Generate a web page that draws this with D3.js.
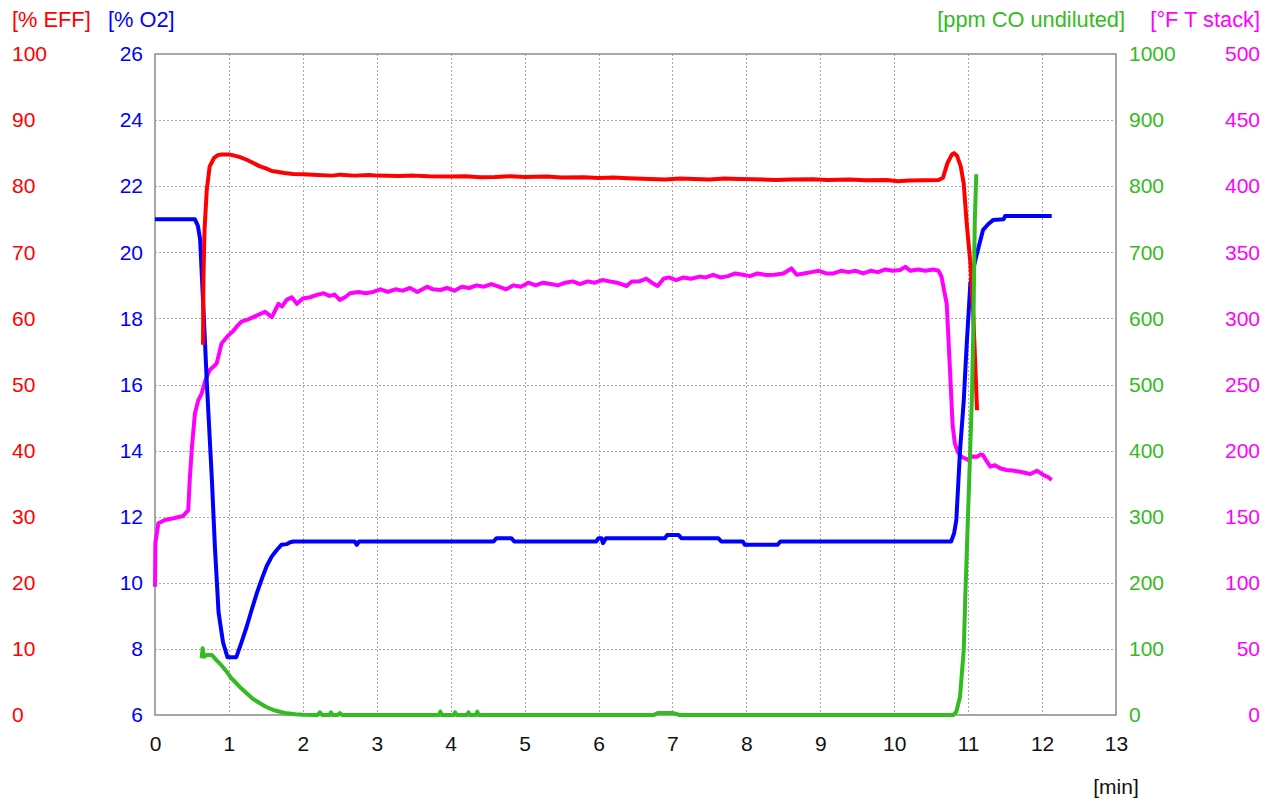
<!DOCTYPE html>
<html>
<head>
<meta charset="utf-8">
<script src="https://cdn.jsdelivr.net/npm/d3@7"></script>
<style>
  body { margin: 0; background: #fff; }
  svg { display: block; font-family: "Liberation Sans", Arial, sans-serif; }
</style>
</head>
<body>
<svg id="chart" width="1273" height="801"></svg>
<script>
// ---------- data ----------
const xTicks = [0,1,2,3,4,5,6,7,8,9,10,11,12,13];
const effTicks = [0,10,20,30,40,50,60,70,80,90,100];
const o2Ticks = [6,8,10,12,14,16,18,20,22,24,26];
const coTicks = [0,100,200,300,400,500,600,700,800,900,1000];
const tTicks = [0,50,100,150,200,250,300,350,400,450,500];

// [minutes, % O2]
const o2Data = [[0,21.0],[0.54,21.0],[0.58,20.8],[0.61,20.4],[0.675,17.35],[0.70,16.1],[0.77,13.1],[0.81,11.1],[0.86,9.1],[0.92,8.2],[0.98,7.75],[1.1,7.75],[1.17,8.2],[1.24,8.67],[1.31,9.2],[1.38,9.7],[1.45,10.15],[1.51,10.5],[1.58,10.8],[1.65,11.0],[1.71,11.15],[1.78,11.17],[1.82,11.22],[1.87,11.25],[2.7,11.25],[2.73,11.15],[2.76,11.25],[4.58,11.25],[4.62,11.35],[4.82,11.35],[4.86,11.25],[5.97,11.25],[6.0,11.35],[6.04,11.35],[6.06,11.2],[6.1,11.35],[6.9,11.35],[6.93,11.45],[7.08,11.45],[7.12,11.35],[7.62,11.35],[7.66,11.25],[7.95,11.25],[7.98,11.15],[8.42,11.15],[8.46,11.25],[10.77,11.25],[10.81,11.5],[10.84,11.9],[10.89,14.0],[10.94,15.5],[10.98,17.2],[11.03,19.06],[11.08,19.6],[11.12,19.97],[11.2,20.67],[11.27,20.85],[11.34,20.98],[11.48,21.0],[11.5,21.1],[12.13,21.1]];

// [minutes, % EFF]
const effData = [[0.65,56],[0.655,66],[0.67,73.4],[0.70,79.4],[0.74,83],[0.8,84.3],[0.85,84.7],[0.9,84.8],[1.0,84.8],[1.05,84.7],[1.15,84.4],[1.24,84.0],[1.33,83.5],[1.42,83.0],[1.5,82.7],[1.58,82.3],[1.65,82.2],[1.75,82.0],[1.87,81.85],[2.0,81.8],[2.2,81.7],[2.4,81.6],[2.5,81.75],[2.7,81.6],[2.9,81.7],[3.0,81.6],[3.3,81.55],[3.5,81.6],[3.7,81.5],[4.0,81.45],[4.2,81.5],[4.4,81.35],[4.6,81.4],[4.8,81.5],[5.0,81.4],[5.3,81.45],[5.5,81.3],[5.8,81.35],[6.0,81.25],[6.2,81.3],[6.4,81.2],[6.7,81.1],[6.9,81.0],[7.1,81.15],[7.3,81.1],[7.5,81.0],[7.7,81.15],[7.9,81.1],[8.1,81.05],[8.4,80.95],[8.6,81.0],[8.9,81.05],[9.1,80.95],[9.4,81.0],[9.6,80.9],[9.9,80.95],[10.05,80.75],[10.2,80.85],[10.4,80.9],[10.6,80.95],[10.66,81.3],[10.72,83.5],[10.78,84.8],[10.81,85.0],[10.85,84.6],[10.9,83.0],[10.94,80.4],[10.98,74.4],[11.03,68.4],[11.07,60.3],[11.1,52],[11.12,46.1]];

// [minutes, ppm CO undiluted]
const coData = [[0.63,85.8],[0.645,101],[0.66,88],[0.70,90.8],[0.77,90.8],[0.83,83],[0.9,75],[0.97,65.5],[1.03,56],[1.1,48],[1.17,40],[1.24,32.8],[1.33,24],[1.42,17.7],[1.5,12.5],[1.6,7.6],[1.7,4.5],[1.78,2.5],[1.9,1],[2.0,0.5],[2.2,0],[2.23,4],[2.26,0],[2.36,0],[2.38,4],[2.4,0],[2.47,0],[2.5,3],[2.53,0],[3.84,0],[3.86,5],[3.88,0],[4.04,0],[4.06,4],[4.08,0],[4.22,0],[4.24,4],[4.26,0],[4.34,0],[4.36,5],[4.38,0],[6.75,0],[6.8,3],[7.0,3],[7.1,0],[10.8,0],[10.84,5],[10.89,27.7],[10.94,98],[10.96,174],[10.99,275],[11.02,375.6],[11.05,476.6],[11.07,582],[11.09,749],[11.11,818]];

// [minutes, °F T stack]
const tData = [[0,97],[0.005,130],[0.045,145],[0.135,147.5],[0.25,148.8],[0.38,150.5],[0.45,155],[0.47,178],[0.5,203],[0.54,228],[0.585,238],[0.63,243],[0.68,253],[0.74,261],[0.8,264],[0.835,266],[0.9,281],[0.99,287],[1.05,290],[1.105,293.7],[1.17,297.5],[1.25,299],[1.33,301],[1.41,303],[1.49,305],[1.58,301],[1.67,311],[1.72,309],[1.78,314],[1.85,316],[1.92,311],[2.0,315],[2.1,316],[2.2,318],[2.28,319],[2.36,317],[2.43,318],[2.5,314],[2.57,316],[2.64,319],[2.75,320],[2.85,319],[2.95,320],[3.05,322],[3.15,320],[3.25,322],[3.35,321],[3.45,323],[3.55,320],[3.68,324],[3.76,322],[3.86,321.5],[3.95,323],[4.05,321],[4.15,324],[4.25,323],[4.35,325],[4.45,324],[4.55,326],[4.65,324],[4.75,322],[4.85,325],[4.95,324],[5.05,327],[5.15,325],[5.25,327],[5.35,326],[5.45,325],[5.55,327],[5.65,328],[5.75,326],[5.85,328],[5.95,327],[6.05,329],[6.15,328],[6.25,327],[6.38,324.5],[6.45,328],[6.55,328],[6.65,330],[6.72,327],[6.8,324.5],[6.88,330],[6.95,331],[7.05,329],[7.15,331],[7.25,330],[7.37,331.6],[7.45,331],[7.55,333],[7.65,331],[7.75,332],[7.85,334],[7.95,333],[8.05,332],[8.15,334],[8.27,332.8],[8.38,333],[8.5,334],[8.61,337.8],[8.68,333],[8.78,334],[8.88,335],[8.98,336],[9.08,334],[9.18,334],[9.28,336],[9.38,335],[9.48,336],[9.58,334],[9.68,336],[9.78,335],[9.88,337],[9.98,336],[10.08,336.6],[10.15,339],[10.22,336],[10.32,337],[10.42,336],[10.53,337],[10.6,336],[10.64,331.5],[10.71,311],[10.75,266],[10.79,219],[10.82,205.5],[10.86,199],[10.91,195.4],[10.96,194],[11.0,193],[11.05,195.5],[11.12,195.4],[11.17,197],[11.2,196.7],[11.25,192],[11.3,187.8],[11.36,189],[11.44,186.5],[11.52,185.3],[11.6,185],[11.7,184],[11.78,183],[11.84,182.3],[11.93,184.8],[11.98,183],[12.02,181.5],[12.08,180],[12.13,177.8]];

// ---------- layout ----------
const plot = { left: 155, right: 1116, top: 54, bottom: 715 };
const FONT = 21;
const TITLE_FONT = 21.8;
const C = { eff: "#ff0000", o2: "#0000ff", co: "#33bb22", t: "#ff00ff", frame: "#8a8a8a", grid: "#a8a8a8" };

const svg = d3.select("#chart");

const x = d3.scaleLinear().domain([0, 13]).range([plot.left, plot.right]);
const yO2 = d3.scaleLinear().domain([6, 26]).range([plot.bottom, plot.top]);
const yEff = d3.scaleLinear().domain([0, 100]).range([plot.bottom, plot.top]);
const yCO = d3.scaleLinear().domain([0, 1000]).range([plot.bottom, plot.top]);
const yT = d3.scaleLinear().domain([0, 500]).range([plot.bottom, plot.top]);

// grid
const grid = svg.append("g").attr("stroke", C.grid).attr("stroke-width", 1).attr("stroke-dasharray", "2,2");
grid.selectAll("line.v").data(xTicks.filter(d => d > 0 && d < 13)).join("line")
  .attr("x1", d => Math.round(x(d)) + 0.5).attr("x2", d => Math.round(x(d)) + 0.5)
  .attr("y1", plot.top).attr("y2", plot.bottom);
grid.selectAll("line.h").data(o2Ticks.filter(d => d > 6 && d < 26)).join("line")
  .attr("y1", d => Math.round(yO2(d)) + 0.5).attr("y2", d => Math.round(yO2(d)) + 0.5)
  .attr("x1", plot.left).attr("x2", plot.right);

// frame
svg.append("rect").attr("x", plot.left).attr("y", plot.top)
  .attr("width", plot.right - plot.left).attr("height", plot.bottom - plot.top)
  .attr("fill", "none").attr("stroke", C.frame).attr("stroke-width", 1.5);

// axes helper
function styleAxis(g, color) {
  g.select(".domain").remove();
  g.selectAll("line").remove();
  g.selectAll("text").attr("fill", color).style("font-size", FONT + "px")
    .style("font-family", '"Liberation Sans", Arial, sans-serif');
}
const fmt = d3.format("d");

svg.append("g").attr("transform", "translate(12,0)")
  .call(d3.axisRight(yEff).tickValues(effTicks).tickFormat(fmt).tickSize(0).tickPadding(0))
  .call(g => styleAxis(g, C.eff));
svg.append("g").attr("transform", "translate(143,0)")
  .call(d3.axisLeft(yO2).tickValues(o2Ticks).tickFormat(fmt).tickSize(0).tickPadding(0))
  .call(g => styleAxis(g, C.o2));
svg.append("g").attr("transform", "translate(1129,0)")
  .call(d3.axisRight(yCO).tickValues(coTicks).tickFormat(fmt).tickSize(0).tickPadding(0))
  .call(g => styleAxis(g, C.co));
svg.append("g").attr("transform", "translate(1260,0)")
  .call(d3.axisLeft(yT).tickValues(tTicks).tickFormat(fmt).tickSize(0).tickPadding(0))
  .call(g => styleAxis(g, C.t));
svg.append("g").attr("transform", `translate(0,${plot.bottom})`)
  .call(d3.axisBottom(x).tickValues(xTicks).tickFormat(fmt).tickSize(0).tickPadding(21))
  .call(g => styleAxis(g, "#111"));

// axis titles
const titles = [
  { text: "[% EFF]", x: 12, anchor: "start", color: C.eff },
  { text: "[% O2]", x: 108, anchor: "start", color: C.o2 },
  { text: "[ppm CO undiluted]", x: 1125, anchor: "end", color: C.co },
  { text: "[°F T stack]", x: 1260, anchor: "end", color: C.t }
];
svg.selectAll("text.title").data(titles).join("text")
  .attr("class", "title")
  .attr("x", d => d.x).attr("y", 27)
  .attr("text-anchor", d => d.anchor)
  .attr("fill", d => d.color)
  .style("font-size", TITLE_FONT + "px")
  .text(d => d.text);

svg.append("text").attr("x", 1116).attr("y", 794).attr("text-anchor", "middle")
  .attr("fill", "#111").style("font-size", FONT + "px").text("[min]");

// series
function drawLine(data, yScale, color) {
  const line = d3.line().x(d => x(d[0])).y(d => yScale(d[1]));
  svg.append("path").datum(data).attr("d", line)
    .attr("fill", "none").attr("stroke", color).attr("stroke-width", 4)
    .attr("stroke-linejoin", "round").attr("stroke-linecap", "butt");
}
drawLine(tData, yT, C.t);
drawLine(o2Data, yO2, C.o2);
drawLine(effData, yEff, C.eff);
drawLine(coData, yCO, C.co);
</script>
</body>
</html>
